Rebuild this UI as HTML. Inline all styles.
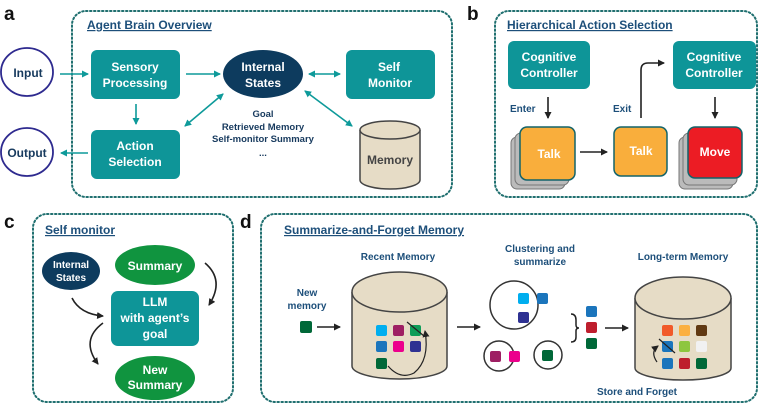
<!DOCTYPE html>
<html><head><meta charset="utf-8"><style>
html,body{margin:0;padding:0;background:#fff}
svg{display:block}
text{font-family:"Liberation Sans",Arial,sans-serif;font-weight:bold}
</style></head><body>
<svg width="762" height="404" viewBox="0 0 762 404" xmlns="http://www.w3.org/2000/svg">
<defs>
<marker id="ta" markerWidth="8" markerHeight="8" refX="6" refY="4" orient="auto-start-reverse" markerUnits="userSpaceOnUse"><path d="M0,0.5 L7,4 L0,7.5 Z" fill="#0e9a9a"/></marker>
<marker id="ba" markerWidth="8" markerHeight="8" refX="6" refY="4" orient="auto-start-reverse" markerUnits="userSpaceOnUse"><path d="M0,0.5 L7,4 L0,7.5 Z" fill="#222"/></marker>
</defs>
<g fill="none" stroke="#1f6f6f" stroke-width="2" stroke-dasharray="1.5 2.5" stroke-linecap="round">
<rect x="72" y="11" width="380" height="186" rx="14"/>
<rect x="495" y="11" width="262" height="186" rx="14"/>
<rect x="33" y="214" width="200" height="188" rx="14"/>
<rect x="261" y="214" width="496" height="188" rx="14"/>
</g>
<g font-size="19" fill="#111"><text x="4" y="20">a</text><text x="467" y="20">b</text><text x="4" y="228">c</text><text x="240" y="228">d</text></g>
<g font-size="12" fill="#1d4f7a" text-decoration="underline">
<text x="87" y="29">Agent Brain Overview</text>
<text x="507" y="29">Hierarchical Action Selection</text>
<text x="45" y="234">Self monitor</text>
<text x="284" y="234">Summarize-and-Forget Memory</text>
</g>
<!-- panel a -->
<ellipse cx="27" cy="72" rx="26" ry="24" fill="#fff" stroke="#2e2a8f" stroke-width="1.8"/>
<ellipse cx="27" cy="152" rx="26" ry="24" fill="#fff" stroke="#2e2a8f" stroke-width="1.8"/>
<g font-size="12" fill="#173a5e" text-anchor="middle"><text x="28" y="77">Input</text><text x="27" y="157">Output</text></g>
<g fill="#0e9598">
<rect x="91" y="50" width="89" height="49" rx="6"/>
<rect x="91" y="130" width="89" height="49" rx="6"/>
<rect x="346" y="50" width="89" height="49" rx="6"/>
</g>
<ellipse cx="263" cy="74" rx="40" ry="24" fill="#0d3b5e"/>
<g font-size="12" fill="#fff" text-anchor="middle">
<text x="135" y="71">Sensory</text><text x="135" y="87">Processing</text>
<text x="135" y="150">Action</text><text x="135" y="166">Selection</text>
<text x="389" y="71">Self</text><text x="390" y="87">Monitor</text>
<text x="263" y="71">Internal</text><text x="263" y="87">States</text>
</g>
<path d="M360,130 L360,180 A30,9 0 0 0 420,180 L420,130" fill="#e6dcc6" stroke="#444" stroke-width="1.5"/>
<ellipse cx="390" cy="130" rx="30" ry="9" fill="#e6dcc6" stroke="#444" stroke-width="1.5"/>
<text x="390" y="164" font-size="12" fill="#444" text-anchor="middle">Memory</text>
<g font-size="9.5" fill="#173a5e" text-anchor="middle">
<text x="263" y="117">Goal</text><text x="263" y="130">Retrieved Memory</text><text x="263" y="142">Self-monitor Summary</text><text x="263" y="156">...</text>
</g>
<g stroke="#0e9a9a" stroke-width="1.6" fill="none">
<line x1="60" y1="74" x2="88" y2="74" marker-end="url(#ta)"/>
<line x1="186" y1="74" x2="220" y2="74" marker-end="url(#ta)"/>
<line x1="309" y1="74" x2="340" y2="74" marker-start="url(#ta)" marker-end="url(#ta)"/>
<line x1="136" y1="104" x2="136" y2="124" marker-end="url(#ta)"/>
<line x1="88" y1="153" x2="61" y2="153" marker-end="url(#ta)"/>
<line x1="223" y1="94" x2="185" y2="126" marker-start="url(#ta)" marker-end="url(#ta)"/>
<line x1="305" y1="91" x2="352" y2="126" marker-start="url(#ta)" marker-end="url(#ta)"/>
</g>
<!-- panel b -->
<g fill="#0e9598"><rect x="508" y="41" width="82" height="48" rx="6"/><rect x="673" y="41" width="83" height="48" rx="6"/></g>
<g font-size="12" fill="#fff" text-anchor="middle">
<text x="549" y="61">Cognitive</text><text x="549" y="77">Controller</text>
<text x="714" y="61">Cognitive</text><text x="714" y="77">Controller</text>
</g>
<g font-size="10" fill="#1d4f7a"><text x="510" y="112">Enter</text><text x="613" y="112">Exit</text></g>
<g stroke="#222" stroke-width="1.6" fill="none">
<line x1="548" y1="97" x2="548" y2="118" marker-end="url(#ba)"/>
<line x1="715" y1="97" x2="715" y2="118" marker-end="url(#ba)"/>
<line x1="580" y1="152" x2="607" y2="152" marker-end="url(#ba)"/>
<path d="M641,118 L641,70 Q641,63 648,63 L664,63" marker-end="url(#ba)"/>
</g>
<g stroke="#777" stroke-width="1" fill="#bbb">
<rect x="511" y="137" width="54" height="52" rx="6"/><rect x="515" y="133" width="54" height="52" rx="6"/>
<rect x="679" y="137" width="54" height="52" rx="6"/><rect x="683" y="133" width="54" height="52" rx="6"/>
</g>
<rect x="520" y="127" width="55" height="53" rx="7" fill="#f9ae3c" stroke="#12636a" stroke-width="1.5"/>
<rect x="614" y="127" width="53" height="49" rx="7" fill="#f9ae3c" stroke="#12636a" stroke-width="1.5"/>
<rect x="688" y="127" width="54" height="51" rx="7" fill="#ec1c24" stroke="#12636a" stroke-width="1.5"/>
<g font-size="12" fill="#fff" text-anchor="middle"><text x="549" y="158">Talk</text><text x="641" y="155">Talk</text><text x="715" y="156">Move</text></g>
<!-- panel c -->
<ellipse cx="71" cy="271" rx="29" ry="19" fill="#0d3b5e"/>
<g font-size="10" fill="#fff" text-anchor="middle"><text x="71" y="268">Internal</text><text x="71" y="281">States</text></g>
<ellipse cx="155" cy="265" rx="40" ry="20" fill="#10943f"/>
<ellipse cx="155" cy="378" rx="40" ry="22" fill="#10943f"/>
<rect x="111" y="291" width="88" height="55" rx="7" fill="#0e9598"/>
<g font-size="12" fill="#fff" text-anchor="middle">
<text x="155" y="270">Summary</text>
<text x="155" y="306">LLM</text><text x="155" y="322">with agent’s</text><text x="155" y="338">goal</text>
<text x="155" y="374">New</text><text x="155" y="389">Summary</text>
</g>
<g stroke="#222" stroke-width="1.6" fill="none">
<path d="M72,298 Q80,314 103,316" marker-end="url(#ba)"/>
<path d="M205,263 Q225,280 209,305" marker-end="url(#ba)"/>
<path d="M103,323 Q80,340 98,364" marker-end="url(#ba)"/>
</g>
<!-- panel d -->
<g font-size="10" fill="#1d4f7a" text-anchor="middle">
<text x="307" y="296">New</text><text x="307" y="309">memory</text>
<text x="398" y="260">Recent Memory</text>
<text x="540" y="252">Clustering and</text><text x="540" y="265">summarize</text>
<text x="683" y="260">Long-term Memory</text>
<text x="637" y="395">Store and Forget</text>
</g>
<rect x="300" y="321" width="12" height="12" rx="2" fill="#006838"/>
<g stroke="#222" stroke-width="1.6" fill="none">
<line x1="317" y1="327" x2="340" y2="327" marker-end="url(#ba)"/>
<line x1="457" y1="327" x2="480" y2="327" marker-end="url(#ba)"/>
<line x1="605" y1="328" x2="628" y2="328" marker-end="url(#ba)"/>
</g>
<path d="M352,292 L352,366 A47.5,13 0 0 0 447,366 L447,292" fill="#e6dcc6" stroke="#444" stroke-width="1.5"/>
<ellipse cx="399.5" cy="292" rx="47.5" ry="20" fill="#e6dcc6" stroke="#444" stroke-width="1.5"/>
<path d="M635,298 L635,368 A48,12 0 0 0 731,368 L731,298" fill="#e6dcc6" stroke="#444" stroke-width="1.5"/>
<ellipse cx="683" cy="298" rx="48" ry="21" fill="#e6dcc6" stroke="#444" stroke-width="1.5"/>
<g>
<rect x="376" y="325" width="11" height="11" rx="2" fill="#00aeef"/>
<rect x="393" y="325" width="11" height="11" rx="2" fill="#9e1f63"/>
<rect x="410" y="325" width="11" height="11" rx="2" fill="#0f9d58"/>
<rect x="376" y="341" width="11" height="11" rx="2" fill="#1b75bc"/>
<rect x="393" y="341" width="11" height="11" rx="2" fill="#ec008c"/>
<rect x="410" y="341" width="11" height="11" rx="2" fill="#2e3192"/>
<rect x="376" y="358" width="11" height="11" rx="2" fill="#006838"/>
</g>
<line x1="407" y1="322" x2="424" y2="336" stroke="#222" stroke-width="1.2"/>
<path d="M388,366 Q400,380 414,373 Q430,360 425,331" fill="none" stroke="#222" stroke-width="1.2" marker-end="url(#ba)"/>
<g fill="none" stroke="#333" stroke-width="1.5">
<circle cx="514" cy="305" r="24"/><circle cx="499" cy="356" r="15"/><circle cx="548" cy="355" r="14"/>
</g>
<path d="M571,314 Q576,314 576,320 L576,325 Q576,328 579,328 Q576,328 576,331 L576,337 Q576,342 571,342" fill="none" stroke="#222" stroke-width="1.5"/>
<g>
<rect x="518" y="293" width="11" height="11" rx="2" fill="#00aeef"/>
<rect x="537" y="293" width="11" height="11" rx="2" fill="#1b75bc"/>
<rect x="518" y="312" width="11" height="11" rx="2" fill="#2e3192"/>
<rect x="490" y="351" width="11" height="11" rx="2" fill="#9e1f63"/>
<rect x="509" y="351" width="11" height="11" rx="2" fill="#ec008c"/>
<rect x="542" y="350" width="11" height="11" rx="2" fill="#006838"/>
<rect x="586" y="306" width="11" height="11" rx="2" fill="#1b75bc"/>
<rect x="586" y="322" width="11" height="11" rx="2" fill="#be1e2d"/>
<rect x="586" y="338" width="11" height="11" rx="2" fill="#006838"/>
<rect x="662" y="325" width="11" height="11" rx="2" fill="#f15a29"/>
<rect x="679" y="325" width="11" height="11" rx="2" fill="#fbb040"/>
<rect x="696" y="325" width="11" height="11" rx="2" fill="#603913"/>
<rect x="662" y="341" width="11" height="11" rx="2" fill="#1b75bc"/>
<rect x="679" y="341" width="11" height="11" rx="2" fill="#8dc63f"/>
<rect x="696" y="341" width="11" height="11" rx="2" fill="#f1f1f2"/>
<rect x="662" y="358" width="11" height="11" rx="2" fill="#1b75bc"/>
<rect x="679" y="358" width="11" height="11" rx="2" fill="#be1e2d"/>
<rect x="696" y="358" width="11" height="11" rx="2" fill="#006838"/>
</g>
<line x1="659" y1="339" x2="675" y2="353" stroke="#222" stroke-width="1.2"/>
<path d="M657,362 Q650,352 658,346" fill="none" stroke="#222" stroke-width="1.2" marker-end="url(#ba)"/>
</svg>
</body></html>
